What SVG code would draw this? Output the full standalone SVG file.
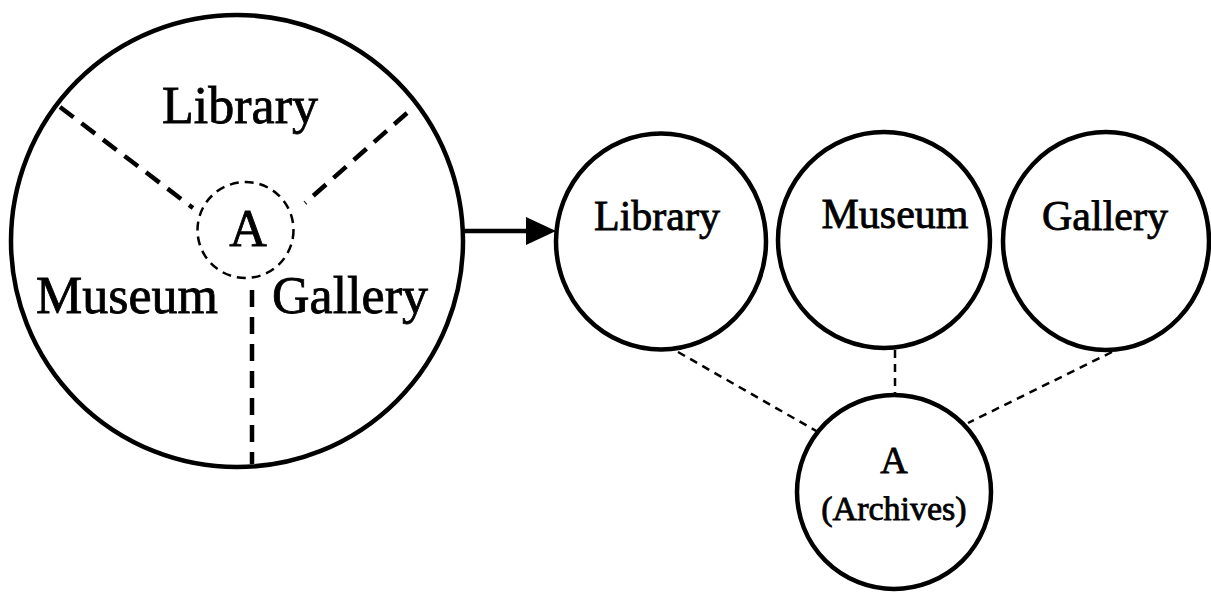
<svg xmlns="http://www.w3.org/2000/svg" width="1211" height="592" viewBox="0 0 1211 592">
<style>
.t{font-family:"Liberation Serif","Times New Roman",serif;fill:#000;stroke:#000;stroke-width:0.8;text-anchor:middle}
.big{font-size:52px}
.mid{font-size:42px}
.sm{font-size:34px}
.node{fill:#fff;stroke:#000;stroke-width:4.5}
.thickdash{stroke:#000;stroke-width:4.5;stroke-dasharray:17 10;fill:none}
.thindash{stroke:#000;stroke-width:2.5;stroke-dasharray:8 6;fill:none}
</style>
<rect width="1211" height="592" fill="#fff"/>
<g id="combined">
  <circle class="node" cx="237" cy="241" r="226"/>
  <line class="thickdash" x1="60" y1="107" x2="193" y2="208"/>
  <line class="thickdash" x1="407" y1="113" x2="305" y2="203"/>
  <line class="thickdash" x1="252" y1="290" x2="252" y2="464"/>
  <circle cx="245.5" cy="230" r="48" fill="none" stroke="#000" stroke-width="2.5" stroke-dasharray="9 6"/>
  <text class="t big" x="240" y="123">Library</text>
  <text class="t big" x="248" y="246">A</text>
  <text class="t big" x="127" y="313">Museum</text>
  <text class="t big" x="350" y="313">Gallery</text>
</g>
<g id="connectors">
  <line x1="462" y1="231" x2="530" y2="231" stroke="#000" stroke-width="4.5"/>
  <polygon points="526,217 556,231 526,245" fill="#000"/>
  <line class="thindash" x1="678" y1="352" x2="818" y2="432"/>
  <line class="thindash" x1="895" y1="350" x2="895" y2="397"/>
  <line class="thindash" x1="1112" y1="352" x2="968" y2="423"/>
</g>
<g id="library">
  <ellipse class="node" cx="661" cy="241.5" rx="105" ry="108"/>
  <text class="t mid" x="657" y="230">Library</text>
</g>
<g id="museum">
  <ellipse class="node" cx="884" cy="240" rx="106" ry="108"/>
  <text class="t mid" x="895" y="228">Museum</text>
</g>
<g id="gallery">
  <ellipse class="node" cx="1106" cy="241" rx="103" ry="109"/>
  <text class="t mid" x="1105" y="230">Gallery</text>
</g>
<g id="archives">
  <circle class="node" cx="894" cy="492" r="97"/>
  <text class="t" x="894" y="473" style="font-size:38px">A</text>
  <text class="t sm" x="894" y="520">(Archives)</text>
</g>
</svg>
